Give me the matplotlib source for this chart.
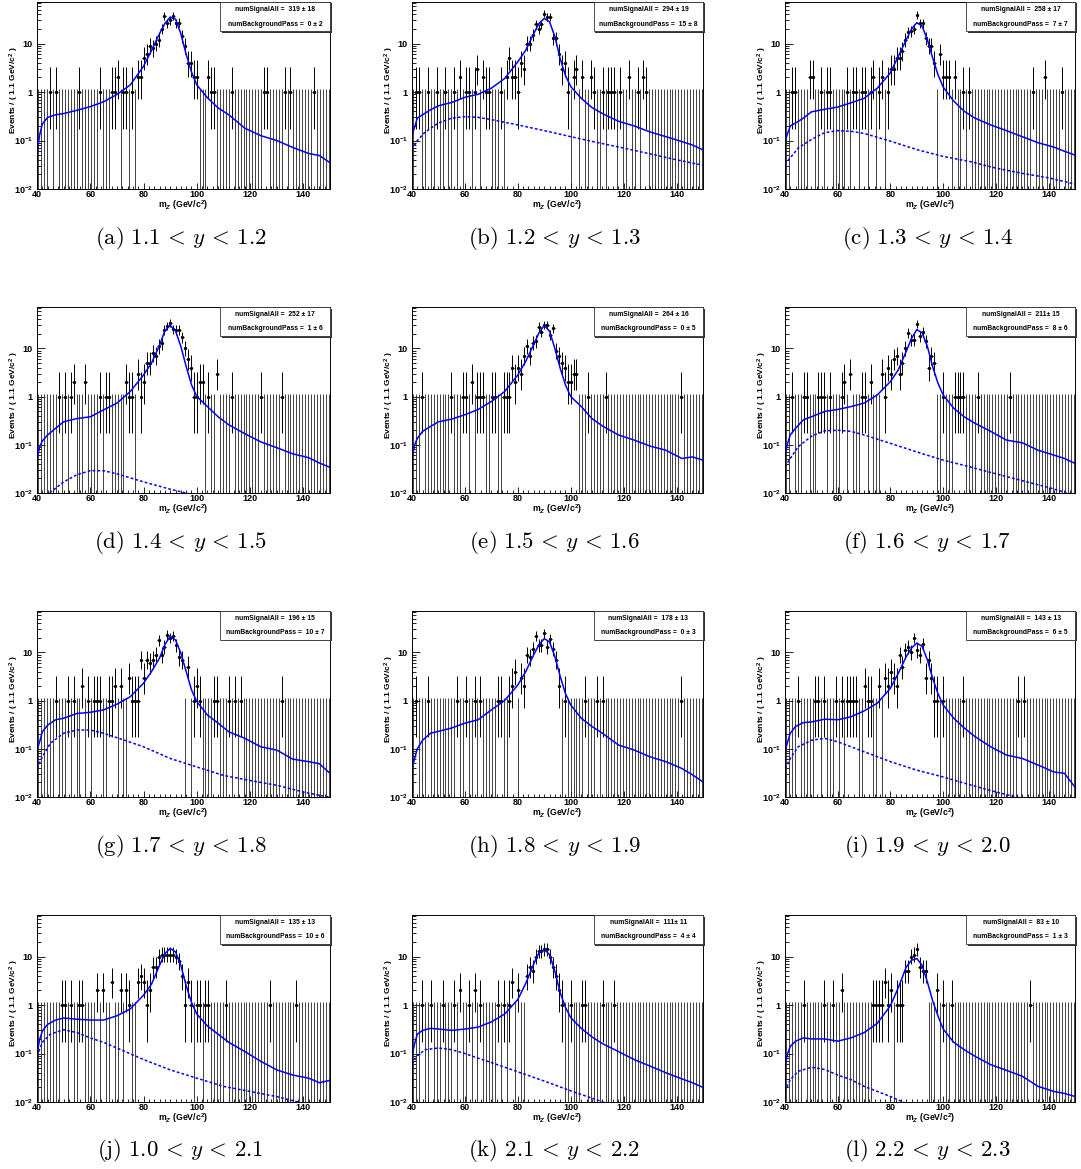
import numpy as np
import matplotlib
matplotlib.use('Agg')
import matplotlib.pyplot as plt
from matplotlib.patches import Rectangle
from matplotlib.ticker import FixedLocator, FixedFormatter, MultipleLocator, NullFormatter

plt.rcParams['font.family'] = ['Liberation Sans', 'DejaVu Sans']
plt.rcParams['font.weight'] = 'bold'
plt.rcParams['mathtext.fontset'] = 'custom'
plt.rcParams['mathtext.rm'] = 'Liberation Sans:bold'
plt.rcParams['mathtext.it'] = 'Liberation Sans:italic:bold'
plt.rcParams['mathtext.bf'] = 'Liberation Sans:bold'

# ---- data ----------------------------------------------------------------
# grid on which the fitted curves were read
fit_x = [40, 41, 42, 44, 47, 50, 55, 60, 65, 70, 75, 80, 83, 86, 88, 90, 92, 94,
         96, 98, 100, 104, 108, 112, 118, 124, 130, 136, 142, 146, 150]
bkg_x = [40, 42, 45, 50, 55, 60, 65, 70, 80, 90, 100, 110, 120, 130, 140, 150]

labels = ['a', 'b', 'c', 'd', 'e', 'f', 'g', 'h', 'i', 'j', 'k', 'l']
y_lo = ['1.1', '1.2', '1.3', '1.4', '1.5', '1.6', '1.7', '1.8', '1.9', '1.0', '2.1', '2.2']
y_hi = ['1.2', '1.3', '1.4', '1.5', '1.6', '1.7', '1.8', '1.9', '2.0', '2.1', '2.2', '2.3']
sig_txt = ['319 \u00b1 18', '294 \u00b1 19', '258 \u00b1 17', '252 \u00b1 17',
           '264 \u00b1 16', '211\u00b1 15', '196 \u00b1 15', '178 \u00b1 13',
           '143 \u00b1 13', '135 \u00b1 13', '111\u00b1 11', '83 \u00b1 10']
bkg_txt = ['0 \u00b1 2', '15 \u00b1 8', '7 \u00b1 7', '1 \u00b1 6', '0 \u00b1 5',
           '8 \u00b1 6', '10 \u00b1 7', '0 \u00b1 3', '6 \u00b1 5', '10 \u00b1 6',
           '4 \u00b1 4', '1 \u00b1 3']

# (a)
m_a = [45.0, 47.3, 56.0, 63.6, 68.0, 69.2, 70.2, 72.6, 73.6, 75.8, 78.0, 79.2, 80.1, 81.1,
       82.4, 83.4, 84.5, 85.7, 86.7, 87.7, 88.6, 89.6, 90.8, 91.8, 93.0, 94.6, 95.6, 96.4,
       97.4, 98.6, 99.9, 103.9, 105.2, 106.2, 113.1, 125.0, 126.0, 132.5, 134.7, 143.8]
n_a = [1, 1, 1, 1, 1, 1, 2, 1, 1, 1, 2, 2, 5, 6, 9, 8, 10, 12, 20, 37, 26, 30, 37, 26,
       27, 14, 9, 4, 4, 2, 2, 2, 1, 1, 1, 1, 1, 1, 1, 1]
fit_a = [0.057, 0.13, 0.22, 0.30, 0.34, 0.36, 0.42, 0.50, 0.63, 0.89, 1.4, 3.4, 7.2, 16,
         26, 35, 32, 16, 6.0, 2.6, 1.4, 0.76, 0.47, 0.34, 0.18, 0.126, 0.10, 0.072, 0.054,
         0.049, 0.035]
bkg_a = None

# (b)
m_b = [41.6, 42.7, 46.0, 49.2, 52.3, 55.5, 58.0, 60.3, 62.0, 63.3, 64.3, 66.6, 67.8, 69.1,
       73.4, 75.4, 76.6, 77.5, 78.8, 79.7, 81.1, 82.2, 83.2, 84.1, 85.1, 86.3, 87.6, 88.5,
       89.5, 90.8, 92.0, 93.0, 93.9, 95.2, 96.4, 97.3, 98.6, 100.8, 102.1, 104.0, 107.4,
       108.4, 111.9, 114.1, 115.1, 117.0, 118.2, 122.5, 125.1, 127.3, 128.3]
n_b = [1, 1, 1, 1, 1, 1, 2, 1, 1, 1, 3, 2, 1, 1, 1, 2, 5, 2, 2, 1, 4, 3, 10, 10, 15, 25,
       20, 25, 41, 35, 35, 13, 13, 6, 3, 4, 1, 2, 3, 2, 2, 1, 1, 1, 1, 1, 1, 2, 1, 2, 1]
fit_b = [0.13, 0.19, 0.29, 0.34, 0.43, 0.52, 0.61, 0.78, 0.9, 1.2, 1.9, 4.2, 7.3, 16, 26,
         33, 28, 14, 4.9, 2.2, 1.3, 0.74, 0.48, 0.36, 0.25, 0.20, 0.15, 0.12, 0.095, 0.081,
         0.064]
bkg_b = [0.064, 0.10, 0.15, 0.23, 0.29, 0.31, 0.30, 0.27, 0.21, 0.16, 0.12, 0.091, 0.07,
         0.053, 0.040, 0.031]

# (c)
m_c = [42.9, 44.0, 49.5, 50.5, 53.5, 56.4, 57.4, 64.0, 66.2, 67.4, 68.8, 70.3, 72.0, 74.1,
       75.4, 77.3, 79.2, 80.5, 81.3, 82.6, 83.8, 84.9, 86.1, 87.2, 88.4, 89.3, 90.6, 91.6,
       92.7, 93.7, 94.6, 95.6, 96.9, 98.4, 99.4, 100.7, 101.9, 104.9, 108.0, 109.5, 133.9,
       139.0, 144.6]
n_c = [1, 1, 2, 2, 1, 1, 1, 1, 1, 1, 1, 1, 1, 2, 1, 2, 1, 3, 3, 5, 5, 7, 12, 17, 18, 20,
       39, 26, 26, 13, 9, 9, 4, 6, 2, 2, 2, 2, 1, 1, 1, 2, 1]
fit_c = [0.097, 0.14, 0.20, 0.23, 0.29, 0.39, 0.44, 0.49, 0.60, 0.74, 1.2, 2.5, 5.5, 12,
         20, 27, 23, 12, 5.1, 2.3, 1.27, 0.65, 0.40, 0.29, 0.21, 0.16, 0.12, 0.09, 0.073,
         0.06, 0.05]
bkg_c = [0.032, 0.044, 0.07, 0.105, 0.145, 0.16, 0.155, 0.14, 0.097, 0.065, 0.047, 0.037,
         0.027, 0.021, 0.017, 0.0126]

# (d)
m_d = [48.3, 50.4, 52.5, 53.8, 58.3, 63.6, 65.8, 66.9, 73.3, 74.6, 75.8, 78.0, 79.2, 80.1,
       81.1, 82.1, 83.2, 84.2, 85.1, 86.4, 87.4, 88.2, 89.2, 90.1, 91.1, 92.1, 93.3, 94.3,
       95.5, 96.5, 97.6, 98.6, 99.9, 102.0, 104.3, 107.7, 112.8, 124.1, 131.6]
n_d = [1, 1, 1, 2, 2, 1, 1, 1, 2, 1, 1, 3, 1, 2, 5, 5, 8, 7, 11, 13, 24, 29, 34, 25, 24,
       24, 17, 10, 6, 4, 1, 1, 2, 2, 1, 3, 1, 1, 1]
fit_d = [0.051, 0.09, 0.12, 0.16, 0.22, 0.30, 0.35, 0.38, 0.53, 0.73, 1.27, 2.8, 5.0, 11.5,
         23, 30, 23, 11, 4.2, 1.75, 1.0, 0.62, 0.38, 0.26, 0.17, 0.115, 0.087, 0.065,
         0.054, 0.042, 0.034]
bkg_d = [0.005, 0.007, 0.0103, 0.017, 0.024, 0.029, 0.029, 0.025, 0.017, 0.012, 0.0088,
         0.006, 0.0045, 0.0033, 0.0025, 0.0019]

# (e)
m_e = [43.5, 54.6, 58.9, 59.9, 62.2, 64.3, 65.6, 66.6, 70.0, 71.2, 74.4, 75.6, 76.6, 77.8,
       78.8, 79.8, 81.1, 82.3, 83.2, 84.5, 85.3, 86.3, 87.4, 88.6, 89.5, 90.5, 91.4, 92.6,
       93.9, 94.9, 95.8, 96.7, 97.7, 98.7, 100.8, 102.1, 106.5, 112.8, 141.5]
n_e = [1, 1, 1, 1, 2, 1, 1, 1, 1, 1, 1, 1, 1, 4, 2, 4, 3, 7, 11, 7, 13, 14, 28, 22, 31,
       31, 19, 26, 9, 7, 5, 4, 2, 2, 3, 3, 1, 1, 1]
fit_e = [0.052, 0.10, 0.135, 0.19, 0.24, 0.30, 0.34, 0.42, 0.54, 0.79, 1.27, 2.8, 5.4, 12,
         21, 30, 22.6, 10, 3.9, 1.75, 1.0, 0.62, 0.35, 0.245, 0.16, 0.125, 0.094, 0.077,
         0.052, 0.056, 0.048]
bkg_e = None

# (f)
m_f = [42.5, 47.6, 48.8, 52.6, 53.9, 55.1, 56.6, 61.8, 63.0, 64.9, 69.3, 70.6, 72.7, 77.2,
       78.2, 79.0, 80.3, 81.2, 82.2, 83.8, 84.7, 85.7, 86.9, 87.9, 89.1, 90.4, 91.4, 92.6,
       93.5, 94.8, 95.8, 96.9, 100.2, 104.2, 105.5, 106.5, 107.8, 113.4, 125.6]
n_f = [1, 1, 1, 1, 1, 1, 1, 1, 2, 3, 1, 1, 2, 3, 1, 4, 3, 6, 7, 3, 5, 10, 21, 15, 15, 32,
       18, 22, 14, 4, 7, 5, 1, 1, 1, 1, 1, 1, 1]
fit_f = [0.061, 0.107, 0.16, 0.22, 0.33, 0.38, 0.49, 0.54, 0.62, 0.73, 1.08, 2.05, 3.6,
         8.7, 16, 24.5, 21, 11, 4.2, 1.9, 1.08, 0.57, 0.38, 0.28, 0.19, 0.125, 0.11, 0.077,
         0.061, 0.052, 0.041]
bkg_f = [0.035, 0.052, 0.091, 0.15, 0.195, 0.2, 0.19, 0.16, 0.107, 0.071, 0.048, 0.035,
         0.025, 0.018, 0.013, 0.009]

# (g)
m_g = [47.5, 51.7, 53.8, 57.0, 59.2, 61.4, 62.3, 63.6, 66.7, 67.9, 69.0, 71.3, 74.6, 75.8,
       77.1, 78.0, 79.0, 80.1, 81.1, 82.1, 83.2, 84.5, 85.5, 86.5, 87.6, 88.6, 89.9, 90.9,
       91.9, 93.0, 94.1, 96.5, 98.6, 99.9, 101.2, 106.2, 107.4, 111.8, 114.1, 116.2, 131.6]
n_g = [1, 1, 1, 2, 1, 1, 1, 1, 1, 1, 2, 2, 3, 1, 1, 1, 7, 3, 7, 6, 7, 9, 18, 9, 13, 23,
       20, 22, 14, 8, 7, 5, 1, 2, 1, 1, 1, 1, 1, 1, 1]
fit_g = [0.094, 0.14, 0.225, 0.31, 0.40, 0.43, 0.54, 0.57, 0.64, 0.84, 1.2, 2.3, 4.0, 7.6,
         14.4, 21.5, 18, 9.7, 4.0, 1.67, 0.95, 0.50, 0.34, 0.225, 0.165, 0.11, 0.094,
         0.061, 0.054, 0.049, 0.031]
bkg_g = [0.039, 0.068, 0.13, 0.21, 0.245, 0.245, 0.21, 0.17, 0.11, 0.063, 0.042, 0.028,
         0.022, 0.0175, 0.0127, 0.0098]

# (h)
m_h = [41.3, 45.8, 56.8, 59.9, 63.4, 65.6, 72.2, 73.1, 76.6, 77.8, 78.8, 80.9, 82.2, 83.2,
       84.2, 85.3, 86.6, 87.9, 88.9, 89.9, 91.0, 92.0, 93.3, 94.3, 95.4, 97.7, 105.2, 109.6,
       111.9, 141.8]
n_h = [1, 1, 1, 1, 1, 1, 1, 1, 1, 2, 4, 3, 2, 9, 8, 12, 22, 14, 14, 25, 13, 19, 12, 7, 2,
       1, 1, 1, 1, 1]
fit_h = [0.039, 0.063, 0.10, 0.15, 0.21, 0.23, 0.27, 0.34, 0.40, 0.64, 1.0, 2.1, 4.0, 8.9,
         14.4, 19.3, 16.4, 8.2, 3.2, 1.4, 0.81, 0.43, 0.29, 0.21, 0.12, 0.094, 0.068,
         0.054, 0.039, 0.029, 0.0205]
bkg_h = None

# (i)
m_i = [45.0, 51.7, 53.0, 55.1, 59.5, 61.8, 63.7, 64.8, 66.1, 67.3, 70.5, 71.5, 72.7, 75.9,
       78.2, 79.0, 80.3, 81.3, 82.6, 83.7, 85.0, 86.0, 86.9, 88.1, 89.2, 90.3, 91.3, 92.5,
       93.5, 94.8, 95.8, 96.9, 98.2, 100.5, 108.0, 128.8, 131.1]
n_i = [1, 1, 1, 1, 1, 1, 1, 1, 1, 1, 2, 1, 1, 2, 3, 2, 4, 3, 2, 9, 5, 11, 13, 10, 20, 11,
       9, 15, 3, 7, 3, 1, 1, 1, 1, 1, 1]
fit_i = [0.087, 0.14, 0.21, 0.29, 0.35, 0.36, 0.41, 0.40, 0.46, 0.61, 0.88, 1.8, 3.7, 8.2,
         12.3, 15.6, 13.3, 7.0, 2.9, 1.4, 0.81, 0.43, 0.27, 0.18, 0.11, 0.074, 0.063,
         0.046, 0.033, 0.031, 0.016]
bkg_i = [0.039, 0.063, 0.11, 0.15, 0.165, 0.14, 0.11, 0.087, 0.054, 0.036, 0.026, 0.018,
         0.0127, 0.0093, 0.0068, 0.005]

# (j)
m_j = [49.1, 50.1, 52.5, 55.8, 56.9, 62.6, 64.8, 68.0, 71.3, 73.6, 74.6, 78.0, 79.0, 80.1,
       81.1, 82.1, 83.2, 84.2, 85.2, 86.5, 87.6, 88.6, 89.9, 90.9, 92.0, 93.3, 94.3, 95.5,
       96.5, 97.4, 99.9, 101.2, 103.0, 104.3, 110.9, 127.2, 136.9]
n_j = [1, 1, 1, 1, 1, 2, 2, 3, 2, 2, 1, 3, 4, 3, 1, 2, 6, 6, 10, 11, 11, 11, 11, 11, 10,
       8, 4, 1, 3, 1, 1, 1, 1, 1, 1, 1, 1]
fit_j = [0.10, 0.195, 0.29, 0.40, 0.49, 0.54, 0.51, 0.49, 0.49, 0.60, 0.83, 1.6, 2.7, 6.6,
         11.5, 14.7, 12.5, 6.6, 2.5, 1.14, 0.65, 0.37, 0.25, 0.17, 0.11, 0.069, 0.046,
         0.036, 0.031, 0.025, 0.028]
bkg_j = [0.088, 0.17, 0.25, 0.31, 0.27, 0.21, 0.17, 0.13, 0.075, 0.046, 0.031, 0.021,
         0.0165, 0.0129, 0.0094, 0.0072]

# (k)
m_k = [44.0, 47.0, 52.0, 56.0, 58.0, 62.0, 64.0, 66.0, 73.0, 75.0, 77.0, 78.0, 80.0, 83.0,
       84.0, 85.0, 86.0, 87.0, 88.0, 89.0, 90.0, 91.0, 92.0, 93.0, 94.0, 95.5, 100.0, 104.0,
       106.0, 112.0, 116.0]
n_k = [1, 1, 1, 1, 2, 1, 2, 1, 1, 1, 1, 3, 2, 4, 6, 5, 10, 13, 13, 14, 14, 10, 6, 4, 2, 1,
       1, 1, 1, 1, 1]
fit_k = [0.09, 0.16, 0.25, 0.30, 0.33, 0.32, 0.30, 0.32, 0.35, 0.45, 0.65, 1.3, 2.8, 7.0,
         12, 14, 11, 5.0, 1.8, 0.9, 0.55, 0.33, 0.22, 0.16, 0.11, 0.075, 0.055, 0.04, 0.03,
         0.025, 0.02]
bkg_k = [0.06, 0.09, 0.12, 0.13, 0.12, 0.10, 0.08, 0.065, 0.042, 0.027, 0.017, 0.011,
         0.007, 0.0045, 0.003, 0.002]

# (l)
m_l = [47.1, 54.9, 58.1, 61.5, 73.5, 74.5, 75.5, 77.0, 78.0, 78.9, 80.2, 82.4, 83.6, 84.8,
       86.1, 87.1, 88.0, 89.0, 90.0, 91.1, 92.4, 93.4, 97.8, 100.1, 103.5, 133.2]
n_l = [1, 1, 1, 2, 1, 1, 1, 1, 3, 1, 2, 1, 1, 1, 5, 5, 10, 11, 14, 6, 5, 5, 2, 1, 1, 1]
fit_l = [0.055, 0.10, 0.14, 0.18, 0.21, 0.20, 0.20, 0.18, 0.21, 0.27, 0.42, 0.97, 2.3,
         6.1, 8.4, 9.1, 6.6, 3.0, 1.23, 0.60, 0.32, 0.17, 0.12, 0.088, 0.059, 0.045, 0.034,
         0.021, 0.0165, 0.015, 0.013]
bkg_l = [0.0165, 0.029, 0.043, 0.052, 0.047, 0.036, 0.029, 0.021, 0.013, 0.0075, 0.005,
         0.0033, 0.0022, 0.0015, 0.001, 0.0007]

panels = [(m_a, n_a, fit_a, bkg_a), (m_b, n_b, fit_b, bkg_b), (m_c, n_c, fit_c, bkg_c),
          (m_d, n_d, fit_d, bkg_d), (m_e, n_e, fit_e, bkg_e), (m_f, n_f, fit_f, bkg_f),
          (m_g, n_g, fit_g, bkg_g), (m_h, n_h, fit_h, bkg_h), (m_i, n_i, fit_i, bkg_i),
          (m_j, n_j, fit_j, bkg_j), (m_k, n_k, fit_k, bkg_k), (m_l, n_l, fit_l, bkg_l)]

# ---- binning: 100 bins of 1.1 GeV between 40 and 150 -----------------------
edges = 40 + 1.1 * np.arange(101)
centers = 0.5 * (edges[:-1] + edges[1:])


def fill_bins(ms, ns):
    counts = np.zeros(100, dtype=int)
    taken = np.zeros(100, dtype=bool)
    for m, n in zip(ms, ns):
        f = (m - 40) / 1.1 - 0.5
        for k in sorted(range(100), key=lambda q: abs(q - f)):
            if not taken[k]:
                counts[k] = n
                taken[k] = True
                break
    return counts


def wh(k, z):
    # Wilson-Hilferty chi2 quantile
    return k * (1 - 2 / (9 * k) + z * np.sqrt(2 / (9 * k))) ** 3


W, H = 1081, 1169
fig = plt.figure(figsize=(W / 100, H / 100), dpi=100)
fig.patch.set_facecolor('white')

col_l = [37, 412, 785]
col_r = [330, 703, 1075]
row_t = [2, 307, 611, 915]
row_b = [189, 493, 797, 1102]

for p, (ms, ns, fit, bkg) in enumerate(panels):
    r, c = divmod(p, 3)
    l, rr, t, b = col_l[c], col_r[c], row_t[r], row_b[r]
    ax = fig.add_axes([l / W, 1 - b / H, (rr - l) / W, (b - t) / H])
    aw, ah = rr - l, b - t

    counts = fill_bins(ms, ns)
    nz = counts > 0
    zc = centers[~nz]
    x = centers[nz]
    n = counts[nz].astype(float)
    lo = 0.5 * wh(2 * n, -1)
    hi = 0.5 * wh(2 * n + 2, 1)

    ax.vlines(zc, 1e-3, -np.log(0.3173), colors='#222222', lw=0.6)
    ax.vlines(x, lo, hi, colors='black', lw=0.7)
    ax.hlines(n, x - 0.55, x + 0.55, colors='black', lw=0.7)
    ax.plot(x, n, 'o', color='black', ms=2.4, mew=0)

    ax.plot(fit_x, fit, color='#0000ff', lw=1.1)
    if bkg is not None:
        ax.plot(bkg_x, bkg, color='#0000ff', lw=1.1, ls=(0, (1.8, 1.4)))

    ax.set_xlim(40, 150)
    ax.set_yscale('log')
    ax.set_ylim(0.01, 72)
    ax.xaxis.set_major_locator(FixedLocator([40, 60, 80, 100, 120, 140]))
    ax.xaxis.set_minor_locator(MultipleLocator(2))
    ax.yaxis.set_major_locator(FixedLocator([0.01, 0.1, 1, 10]))
    ax.yaxis.set_major_formatter(FixedFormatter([r'$10^{-2}$', r'$10^{-1}$', '1', '10']))
    ax.yaxis.set_minor_formatter(NullFormatter())
    ax.tick_params(which='both', direction='in', top=False, right=False,
                   labelsize=6.5, width=0.6)
    ax.tick_params(axis='y', which='major', length=6, pad=3)
    ax.tick_params(axis='y', which='minor', length=3)
    ax.tick_params(axis='x', which='major', length=4, pad=1)
    ax.tick_params(axis='x', which='minor', length=2)
    for s in ax.spines.values():
        s.set_linewidth(0.7)

    ax.text(-23 / aw, 1 - 88 / ah, 'Events / ( 1.1 GeV/c$^{2}$ )', transform=ax.transAxes,
            rotation=90, ha='center', va='center', fontsize=6.0, fontweight='bold')
    ax.text(0.5, -16 / ah, 'm$_{Z}$ (GeV/c$^{2}$)', transform=ax.transAxes,
            ha='center', va='center', fontsize=6.3, fontweight='bold')

    # stat box
    bx0, by0 = 0.625, 1 - 29 / ah
    sh = Rectangle((bx0 + 1.5 / aw, by0 - 1.5 / ah), 1 - bx0, 1 - by0,
                   transform=ax.transAxes, facecolor='#333333', edgecolor='none',
                   clip_on=False, zorder=5)
    box = Rectangle((bx0, by0), 1 - bx0, 1 - by0, transform=ax.transAxes,
                    facecolor='white', edgecolor='#333333', lw=0.6, clip_on=False,
                    zorder=6)
    ax.add_patch(sh)
    ax.add_patch(box)
    bxc = 0.5 * (bx0 + 1)
    ax.text(bxc, 1 - 7.5 / ah, 'numSignalAll =  ' + sig_txt[p], transform=ax.transAxes,
            ha='center', va='center', fontsize=4.9, fontweight='bold', zorder=7)
    ax.text(bxc, 1 - 22 / ah, 'numBackgroundPass =  ' + bkg_txt[p],
            transform=ax.transAxes, ha='center', va='center', fontsize=4.9,
            fontweight='bold', zorder=7)

    cap = r'$\mathrm{(%s)}\ %s \,<\, y \,<\, %s$' % (labels[p], y_lo[p], y_hi[p])
    fig.text((0.5 * (l + rr) - 3) / W, 1 - (b + 49) / H, cap, math_fontfamily='cm',
             fontsize=16.5, ha='center', va='center')

fig.savefig('out.png', dpi=100)
